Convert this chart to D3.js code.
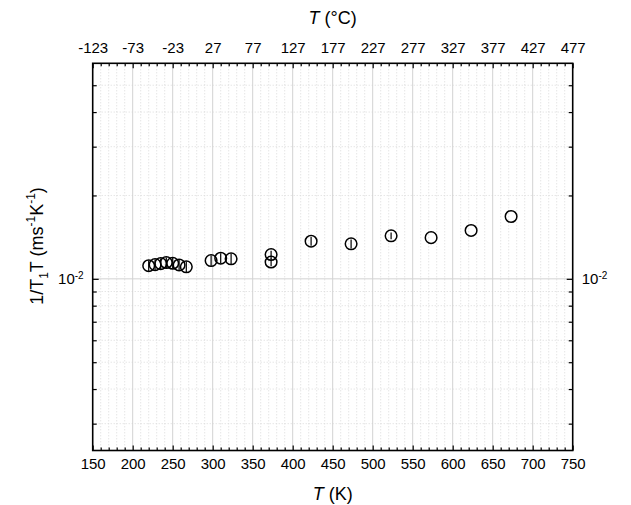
<!DOCTYPE html>
<html>
<head>
<meta charset="utf-8">
<script src="https://cdn.jsdelivr.net/npm/d3@7"></script>
<style>
  body { margin: 0; background: #fff; }
  svg { display: block; font-family: "Liberation Sans", Arial, sans-serif; }
</style>
</head>
<body>
<svg id="chart" width="631" height="505"></svg>
<script>
// temperatures (K) and 1/T1T values
const tempK = [220, 228, 235, 242, 250, 258, 267, 298, 310, 323, 373, 373, 423, 473, 523, 573, 623, 673]
const rate = [0.01115, 0.01125, 0.01135, 0.01145, 0.01138, 0.01122, 0.01105,
              0.01164, 0.01187, 0.01181, 0.01224, 0.01150, 0.01367, 0.01338, 0.01430, 0.01408, 0.01495, 0.01679]
const rateErr = [0.0005, 0.0005, 0.0005, 0.0005, 0.0005, 0.0005, 0.0005,
                 0.0005, 0.0005, 0.0005, 0.0004, 0.0004, 0.0005, 0.0005, 0.0004, 0, 0, 0]

const bottomTicks = [150, 200, 250, 300, 350, 400, 450, 500, 550, 600, 650, 700, 750]
const topTicks = [-123, -73, -23, 27, 77, 127, 177, 227, 277, 327, 377, 427, 477]
const yMajor = [0.01]
const yMinor = [0.003, 0.004, 0.005, 0.006, 0.007, 0.008, 0.009, 0.02, 0.03, 0.04, 0.05]

let pLeft = 92.7, pRight = 572.7, pTop = 63.3, pBottom = 450.5

let x = d3.scaleLinear().domain([150, 750]).range([pLeft, pRight])
let xC = d3.scaleLinear().domain([-123, 477]).range([pLeft, pRight])
let y = d3.scaleLog().domain([0.0024, 0.06]).range([pBottom, pTop])

let xMinor = d3.range(160, 750, 10).filter(d => d % 50 !== 0)

let svg = d3.select("#chart")

// grid
let grid = svg.append("g")
grid.selectAll(".gxm")
  .data(xMinor)
  .enter().append("line")
    .attr("x1", d => x(d)).attr("x2", d => x(d))
    .attr("y1", pTop).attr("y2", pBottom)
    .attr("stroke", "#dadada").attr("stroke-dasharray", "1,2")
grid.selectAll(".gym")
  .data(yMinor)
  .enter().append("line")
    .attr("x1", pLeft).attr("x2", pRight)
    .attr("y1", d => y(d)).attr("y2", d => y(d))
    .attr("stroke", "#dadada").attr("stroke-dasharray", "1,2")
grid.selectAll(".gxM")
  .data(bottomTicks.slice(1, -1))
  .enter().append("line")
    .attr("x1", d => x(d)).attr("x2", d => x(d))
    .attr("y1", pTop).attr("y2", pBottom)
    .attr("stroke", "#d2d2d2")
grid.selectAll(".gyM")
  .data(yMajor)
  .enter().append("line")
    .attr("x1", pLeft).attr("x2", pRight)
    .attr("y1", d => y(d)).attr("y2", d => y(d))
    .attr("stroke", "#d2d2d2")

// axes, ticks pointing inward
let styleAxis = g => {
  g.attr("font-family", null).attr("font-size", null)
  g.select(".domain").remove()
  g.selectAll(".tick line").attr("stroke", "#000").attr("stroke-width", 1.2)
  g.selectAll(".tick text").attr("fill", "#000").style("font-size", "15px")
}

svg.append("g").attr("transform", `translate(0,${pBottom})`)
  .call(d3.axisBottom(x).tickValues(bottomTicks).tickSize(-5).tickPadding(8).tickFormat(d => String(d)))
  .call(styleAxis)
svg.append("g").attr("transform", `translate(0,${pBottom})`)
  .call(d3.axisBottom(x).tickValues(xMinor).tickSize(-3).tickFormat(""))
  .call(styleAxis)
svg.append("g").attr("transform", `translate(0,${pTop})`)
  .call(d3.axisTop(xC).tickValues(topTicks).tickSize(-5).tickPadding(10).tickFormat(d => String(d)))
  .call(styleAxis)
svg.append("g").attr("transform", `translate(0,${pTop})`)
  .call(d3.axisTop(x).tickValues(xMinor).tickSize(-3).tickFormat(""))
  .call(styleAxis)

let yAxes = [[d3.axisLeft, pLeft], [d3.axisRight, pRight]]
yAxes.forEach(([axisFn, pos]) => {
  let g = svg.append("g").attr("transform", `translate(${pos},0)`)
    .call(axisFn(y).tickValues(yMajor).tickSize(-6).tickPadding(9).tickFormat(() => "10"))
    .call(styleAxis)
  g.selectAll(".tick text")
    .append("tspan").attr("dy", "-0.55em").style("font-size", "10px").text("-2")
  svg.append("g").attr("transform", `translate(${pos},0)`)
    .call(axisFn(y).tickValues(yMinor).tickSize(-4).tickFormat(""))
    .call(styleAxis)
})

// frame
svg.append("rect")
  .attr("x", pLeft).attr("y", pTop)
  .attr("width", pRight - pLeft).attr("height", pBottom - pTop)
  .attr("fill", "none").attr("stroke", "#000").attr("stroke-width", 1.6)

// data
let pts = tempK.map((t, i) => ({ t: t, v: rate[i], e: rateErr[i] }))

svg.append("g").selectAll("line")
  .data(pts.filter(d => d.e > 0))
  .enter().append("line")
    .attr("x1", d => x(d.t)).attr("x2", d => x(d.t))
    .attr("y1", d => y(d.v - d.e)).attr("y2", d => y(d.v + d.e))
    .attr("stroke", "#000").attr("stroke-width", 1.2)

svg.append("g").selectAll("circle")
  .data(pts)
  .enter().append("circle")
    .attr("cx", d => x(d.t))
    .attr("cy", d => y(d.v))
    .attr("r", 5.8)
    .attr("fill", "none")
    .attr("stroke", "#000")
    .attr("stroke-width", 1.5)

// labels
svg.append("text")
  .attr("x", (pLeft + pRight) / 2).attr("y", 500)
  .attr("text-anchor", "middle").style("font-size", "18px")
  .html('<tspan font-style="italic">T</tspan> (K)')

svg.append("text")
  .attr("x", (pLeft + pRight) / 2).attr("y", 24)
  .attr("text-anchor", "middle").style("font-size", "18px")
  .html('<tspan font-style="italic">T</tspan> (°C)')

svg.append("text")
  .attr("transform", "translate(43,246) rotate(-90)")
  .attr("text-anchor", "middle").style("font-size", "18px")
  .html('1/T<tspan dy="5" font-size="12">1</tspan><tspan dy="-5">T (ms</tspan>' +
        '<tspan dy="-8" font-size="12">-1</tspan><tspan dy="8">K</tspan>' +
        '<tspan dy="-8" font-size="12">-1</tspan><tspan dy="8">)</tspan>')
</script>
</body>
</html>
